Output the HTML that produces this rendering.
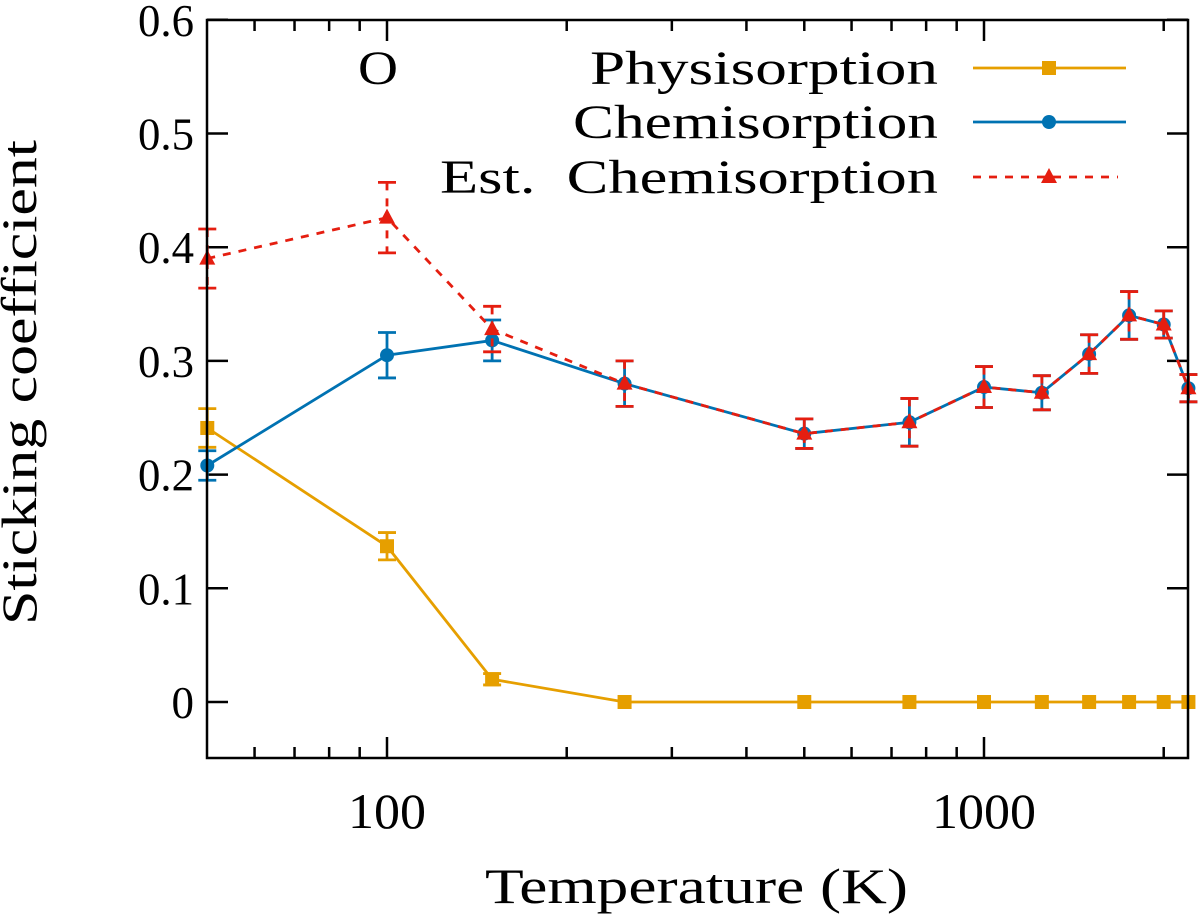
<!DOCTYPE html>
<html><head><meta charset="utf-8"><style>
html,body{margin:0;padding:0;background:#fff;}
svg{display:block;font-family:"Liberation Serif",serif;}
</style></head><body>
<svg id="chart" width="1200" height="923" viewBox="0 0 1200 923" xmlns="http://www.w3.org/2000/svg"></svg>
<script>
const temps = [50,100,150,250,500,750,1000,1250,1500,1750,2000,2200];
const physVals = [0.241,0.137,0.02,0,0,0,0,0,0,0,0,0];
const physErr = [0.017,0.012,0.005,0,0,0,0,0,0,0,0,0];
const chemVals = [0.208,0.305,0.318,0.28,0.236,0.246,0.277,0.272,0.306,0.34,0.332,0.276];
const chemErr = [0.013,0.02,0.018,0.02,0.013,0.021,0.018,0.015,0.017,0.021,0.012,0.012];
const estVals = [0.39,0.426,0.328,0.28,0.236,0.246,0.277,0.272,0.306,0.34,0.332,0.276];
const estErr = [0.026,0.031,0.02,0.02,0.013,0.021,0.018,0.015,0.017,0.021,0.012,0.012];
const yTicks = [0,0.1,0.2,0.3,0.4,0.5,0.6];
const yTickLabels = ["0","0.1","0.2","0.3","0.4","0.5","0.6"];
const xMajor = [100,1000];
const xMajorLabels = ["100","1000"];
const xMinor = [60,70,80,90,200,300,400,500,600,700,800,900,2000];

const L=207,R=1188,T=20,B=758;
const xs=t=>387+597*(Math.log10(t)-2);
const ys=v=>702-v*1137;
const svg=document.getElementById('chart');
const NS='http://www.w3.org/2000/svg';
function mk(tag,attrs,parent){const e=document.createElementNS(NS,tag);for(const k in attrs)e.setAttribute(k,attrs[k]);(parent||svg).appendChild(e);return e;}

for(let i=0;i<yTicks.length;i++){
  const y=ys(yTicks[i]);
  const tk=mk('line',{x1:L,x2:L+21,y1:y,y2:y,stroke:'#000','stroke-width':2.5});
  
  
  mk('line',{x1:R-21,x2:R,y1:y,y2:y,stroke:'#000','stroke-width':2.5});
  const lab=yTickLabels[i];
  const attrs={x:L-13,y:y+16,'text-anchor':'end','font-size':45};
  if(lab.length>1){attrs.textLength=56;attrs.lengthAdjust='spacingAndGlyphs';}
  const t=mk('text',attrs);
  t.textContent=lab;
  
  
}
for(let i=0;i<xMajor.length;i++){
  const x=xs(xMajor[i]);
  mk('line',{x1:x,x2:x,y1:B,y2:B-21,stroke:'#000','stroke-width':2.5});
  mk('line',{x1:x,x2:x,y1:T,y2:T+21,stroke:'#000','stroke-width':2.5});
  const lab=xMajorLabels[i];
  const t=mk('text',{x:x,y:828,'text-anchor':'middle','font-size':50,textLength:lab.length*26,lengthAdjust:'spacingAndGlyphs'});
  t.textContent=lab;
  
  
}
for(const m of xMinor){
  const x=xs(m);
  mk('line',{x1:x,x2:x,y1:B,y2:B-11,stroke:'#000','stroke-width':2.5});
  mk('line',{x1:x,x2:x,y1:T,y2:T+11,stroke:'#000','stroke-width':2.5});
}

function series(vals,err,color,dash,marker,name){
  const g=mk('g',{});
  
  
  const pts=temps.map((t,i)=>xs(t)+','+ys(vals[i])).join(' ');
  const pl=mk('polyline',{points:pts,fill:'none',stroke:color,'stroke-width':2.8,'stroke-dasharray':dash||'none'},g);
  
  
  temps.forEach((t,i)=>{
    const x=xs(t),y=ys(vals[i]);
    if(err[i]>0){
      const y1=ys(vals[i]+err[i]),y2=ys(vals[i]-err[i]);
      mk('line',{x1:x,x2:x,y1:y1,y2:y2,stroke:color,'stroke-width':2.8,'stroke-dasharray':dash||'none'},g);
      mk('line',{x1:x-9,x2:x+9,y1:y1,y2:y1,stroke:color,'stroke-width':2.8},g);
      mk('line',{x1:x-9,x2:x+9,y1:y2,y2:y2,stroke:color,'stroke-width':2.8},g);
    }
    let m;
    if(marker==='sq')m=mk('rect',{x:x-7,y:y-7,width:14,height:14,fill:color},g);
    else if(marker==='c')m=mk('circle',{cx:x,cy:y,r:7,fill:color},g);
    else m=mk('polygon',{points:`${x},${y-9} ${x-8},${y+6} ${x+8},${y+6}`,fill:color},g);
    
    
  });
}
series(physVals,physErr,'#e69f00',null,'sq','physisorption-series');
series(chemVals,chemErr,'#0072b2',null,'c','chemisorption-series');
series(estVals,estErr,'#e51e10','8,8','t','est-chemisorption-series');

const frame=mk('rect',{x:L,y:T,width:R-L,height:B-T,fill:'none',stroke:'#000','stroke-width':2.5});



const lg=[['Physisorption','#e69f00',null,'sq',68,348],['Chemisorption','#0072b2',null,'c',122,365],['Est.\u00a0 Chemisorption','#e51e10','8,8','t',177,498]];
for(const [lab,c,d,mkr,y,w] of lg){
  const t=mk('text',{x:938-w,y:y+16,'font-size':48,textLength:w,lengthAdjust:'spacingAndGlyphs'});
  t.textContent=lab;
  
  
  const ln=mk('line',{x1:973,x2:d?1118:1126,y1:y,y2:y,stroke:c,'stroke-width':2.8,'stroke-dasharray':d||'none'});
  
  
  const x=1049;
  if(mkr==='sq')mk('rect',{x:x-7,y:y-7,width:14,height:14,fill:c});
  else if(mkr==='c')mk('circle',{cx:x,cy:y,r:7,fill:c});
  else mk('polygon',{points:`${x},${y-9} ${x-8},${y+6} ${x+8},${y+6}`,fill:c});
}
const o=mk('text',{x:358,y:84,'font-size':48,textLength:40,lengthAdjust:'spacingAndGlyphs'});
o.textContent='O';


const xt=mk('text',{x:485,y:903,'font-size':50,textLength:423,lengthAdjust:'spacingAndGlyphs'});
xt.textContent='Temperature (K)';


const yt=mk('text',{x:0,y:0,'font-size':50,textLength:485,lengthAdjust:'spacingAndGlyphs',transform:'translate(36,625) rotate(-90)'});
yt.textContent='Sticking coefficient';


</script>
</body></html>
